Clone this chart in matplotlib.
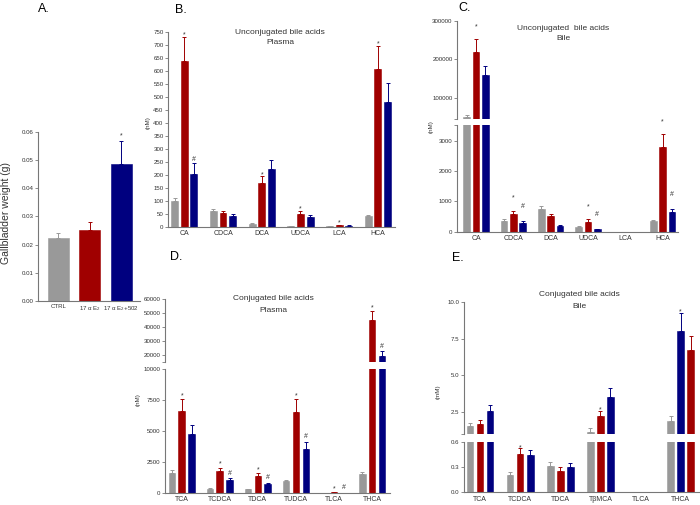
import numpy as np
import matplotlib
matplotlib.use("Agg")
import matplotlib.pyplot as plt

plt.rcParams['font.family'] = ['Liberation Sans', 'DejaVu Sans']
plt.rcParams['mathtext.fontset'] = 'custom'
plt.rcParams['mathtext.rm'] = 'Liberation Sans'
plt.rcParams['mathtext.it'] = 'Liberation Sans:italic'

GRAY = '#999999'
RED = '#a00000'
BLUE = '#00007f'
AXC = '#777777'
TXT = '#333333'
W, H = 700, 505

# A. gallbladder weight (g)
a_groups = ['CTRL', r'17 α E$_2$', r'17 α E$_2$+502']
a_mean = [0.0222, 0.0252, 0.0487]
a_err = [0.0018, 0.0027, 0.0081]
a_marks = ['', '', '*']

# B. unconjugated bile acids, plasma (nM)
b_acids = ['CA', 'CDCA', 'DCA', 'UDCA', 'LCA', 'HCA']
b_ctrl = [98, 59, 10, 1, 1, 40]
b_ctrl_err = [14, 9, 3, 0.5, 0.5, 6]
b_e2 = [640, 51, 170, 50, 6, 608]
b_e2_err = [93, 11, 24, 10, 2, 91]
b_e2502 = [202, 41, 224, 36, 4, 482]
b_e2502_err = [43, 8, 32, 9, 1, 71]
b_e2_marks = ['*', '', '*', '*', '*', '*']
b_e2502_marks = ['#', '', '', '', '', '']

# C. unconjugated bile acids, bile (nM)
c_acids = ['CA', 'CDCA', 'DCA', 'UDCA', 'LCA', 'HCA']
c_ctrl = [50000, 354, 740, 166, 0, 344]
c_ctrl_err = [5000, 66, 110, 24, 0, 56]
c_e2 = [220000, 600, 520, 331, 0, 2795]
c_e2_err = [32600, 90, 66, 79, 0, 430]
c_e2502 = [159500, 300, 200, 80, 0, 662]
c_e2502_err = [24100, 54, 22, 12, 0, 90]
c_e2_marks = ['*', '*', '', '*', '', '*']
c_e2502_marks = ['', '#', '', '#', '', '#']

# D. conjugated bile acids, plasma (nM)
d_acids = ['TCA', 'TCDCA', 'TDCA', 'TUDCA', 'TLCA', 'THCA']
d_ctrl = [1590, 320, 300, 970, 10, 1510]
d_ctrl_err = [260, 60, 50, 80, 5, 210]
d_e2 = [6610, 1770, 1370, 6560, 60, 45200]
d_e2_err = [940, 270, 220, 1000, 20, 6400]
d_e2502 = [4760, 1050, 700, 3550, 30, 19500]
d_e2502_err = [720, 130, 130, 560, 10, 3400]
d_e2_marks = ['*', '*', '*', '*', '*', '*']
d_e2502_marks = ['', '#', '#', '#', '#', '#']

# E. conjugated bile acids, bile (mM)
e_acids = ['TCA', 'TCDCA', 'TDCA', 'TβMCA', 'TLCA', 'THCA']
e_ctrl = [1.54, 0.205, 0.312, 1.19, 0.004, 1.93]
e_ctrl_err = [0.23, 0.032, 0.044, 0.21, 0.001, 0.34]
e_e2 = [1.70, 0.455, 0.253, 2.27, 0.005, 6.70]
e_e2_err = [0.27, 0.065, 0.044, 0.34, 0.001, 0.98]
e_e2502 = [2.56, 0.443, 0.304, 3.56, 0.004, 8.00]
e_e2502_err = [0.41, 0.057, 0.040, 0.55, 0.001, 1.21]
e_e2_marks = ['', '*', '', '*', '', '']
e_e2502_marks = ['', '', '', '', '', '*']
e_swap = [False, False, False, False, False, True]  # THCA: blue bar drawn in the middle

fig = plt.figure(figsize=(W / 100, H / 100), dpi=100)


def make_ax(l, t, r, b, bottom=True):
    ax = fig.add_axes([l / W, 1 - b / H, (r - l) / W, (b - t) / H])
    ax.patch.set_visible(False)
    for s in ['top', 'right']:
        ax.spines[s].set_visible(False)
    ax.spines['left'].set_color(AXC)
    ax.spines['left'].set_linewidth(0.8)
    if bottom:
        ax.spines['bottom'].set_color(AXC)
        ax.spines['bottom'].set_linewidth(0.8)
    else:
        ax.spines['bottom'].set_visible(False)
        ax.set_xticks([])
    ax.tick_params(axis='y', which='both', length=2, width=0.6, color=AXC,
                   labelsize=4.4, labelcolor=TXT, pad=1.2)
    ax.tick_params(axis='x', length=0, labelsize=5, labelcolor=TXT, pad=2.5)
    return ax


def ftext(x, y, s, **kw):
    fig.text(x / W, 1 - y / H, s, **kw)


def draw(axes, x, vals, errs, color, width, marks, mark_px):
    x = np.asarray(x, dtype=float)
    vals = np.asarray(vals, dtype=float)
    errs = np.asarray(errs, dtype=float)
    for ax in axes:
        ax.bar(x, vals, width, color=color, edgecolor=color, linewidth=0.4, zorder=2)
        ax.errorbar(x, vals, yerr=[np.zeros_like(errs), errs], fmt='none', ecolor=color,
                    elinewidth=0.7, capsize=1.6, capthick=0.7, zorder=1)
    low = axes[-1]
    for xi, top, m in zip(x, vals + errs, marks):
        if not m:
            continue
        ax = low
        if len(axes) == 2 and top > low.get_ylim()[1]:
            ax = axes[0]
        base = mark_px - (4.0 if m == '*' else 2.4)
        ax.annotate(m, (xi, top), xytext=(0, base * 0.72), textcoords='offset points',
                    ha='center', va='baseline', fontsize=5, color=TXT, annotation_clip=False)


def panel(axes, groups, series, width, mark_px, xlim):
    pos = np.arange(len(groups))
    for ax in axes:
        ax.set_xlim(*xlim)
    for vals, errs, color, marks, offs in series:
        draw(axes, pos + np.asarray(offs), vals, errs, color, width, marks, mark_px)
    axes[-1].set_xticks(pos)
    axes[-1].set_xticklabels(groups)


# ---------------- A
axA = make_ax(38, 131.7, 140, 301)
axA.set_ylim(0, 0.06)
axA.set_xlim(-0.65, 2.59)
a_ticks = np.arange(0, 0.061, 0.01)
axA.set_yticks(a_ticks)
axA.set_yticklabels(['%.2f' % v for v in a_ticks])
for i, (v, e, c, m) in enumerate(zip(a_mean, a_err, [GRAY, RED, BLUE], a_marks)):
    draw([axA], [i], [v], [e], c, 0.67, [m], 7)
axA.set_xticks(range(3))
axA.set_xticklabels(a_groups, fontsize=4.4)
ftext(6, 213, 'Gallbladder weight (g)', rotation=90, ha='center', va='center',
      fontsize=7.5, color=TXT)
ftext(44, 9, 'A.', ha='center', va='center', fontsize=9)

# ---------------- B
axB = make_ax(168, 32.3, 395, 226.7)
axB.set_ylim(0, 750)
axB.set_yticks(np.arange(0, 751, 50))
off = 0.25
panel([axB], b_acids,
      [(b_ctrl, b_ctrl_err, GRAY, [''] * 6, [-off] * 6),
       (b_e2, b_e2_err, RED, b_e2_marks, [0] * 6),
       (b_e2502, b_e2502_err, BLUE, b_e2502_marks, [off] * 6)],
      0.18, 4.4, (-0.42, 5.44))
ftext(280, 32, 'Unconjugated bile acids', ha='center', va='center', fontsize=6, color=TXT)
ftext(280, 42, 'Plasma', ha='center', va='center', fontsize=6, color=TXT)
ftext(148, 123, '(nM)', rotation=90, ha='center', va='center', fontsize=4.5, color=TXT)
ftext(181, 10, 'B.', ha='center', va='center', fontsize=9)

# ---------------- C
axC1 = make_ax(457, 20.7, 678.3, 119.3, bottom=False)
axC2 = make_ax(457, 125, 678.3, 231.7)
axC1.set_ylim(45000, 300000)
axC1.set_yticks([100000, 200000, 300000])
axC1.set_yticklabels(['100000', '200000', '300000'])
axC1.set_yticks([45000], minor=True)
axC2.set_ylim(0, 3530)
axC2.set_yticks([0, 1000, 2000, 3000])
axC2.set_yticks([3530], minor=True)
off = 0.25
panel([axC1, axC2], c_acids,
      [(c_ctrl, c_ctrl_err, GRAY, [''] * 6, [-off] * 6),
       (c_e2, c_e2_err, RED, c_e2_marks, [0] * 6),
       (c_e2502, c_e2502_err, BLUE, c_e2502_marks, [off] * 6)],
      0.18, 15, (-0.51, 5.42))
ftext(563, 29, 'Unconjugated  bile acids', ha='center', va='center', fontsize=6, color=TXT)
ftext(563, 39, 'Bile', ha='center', va='center', fontsize=6, color=TXT)
ftext(431, 127, '(nM)', rotation=90, ha='center', va='center', fontsize=4.5, color=TXT)
ftext(465, 8, 'C.', ha='center', va='center', fontsize=9)

# ---------------- D
axD1 = make_ax(165, 299.3, 390, 362.3, bottom=False)
axD2 = make_ax(165, 369, 390, 493)
axD1.set_ylim(15000, 60000)
axD1.set_yticks(np.arange(20000, 60001, 10000))
axD1.set_yticks([15000], minor=True)
axD2.set_ylim(0, 10000)
axD2.set_yticks(np.arange(0, 10001, 2500))
off = 0.26
panel([axD1, axD2], d_acids,
      [(d_ctrl, d_ctrl_err, GRAY, [''] * 6, [-off] * 6),
       (d_e2, d_e2_err, RED, d_e2_marks, [0] * 6),
       (d_e2502, d_e2502_err, BLUE, d_e2502_marks, [off] * 6)],
      0.176, 6, (-0.44, 5.47))
ftext(273, 299, 'Conjugated bile acids', ha='center', va='center', fontsize=6, color=TXT)
ftext(273, 310, 'Plasma', ha='center', va='center', fontsize=6, color=TXT)
ftext(138, 400, '(nM)', rotation=90, ha='center', va='center', fontsize=4.5, color=TXT)
ftext(176, 257, 'D.', ha='center', va='center', fontsize=9)

# ---------------- E
axE1 = make_ax(464, 301.7, 699, 434.3, bottom=False)
axE2 = make_ax(464, 441.7, 699, 492.3)
axE1.set_ylim(1.0, 10.0)
axE1.set_yticks([2.5, 5.0, 7.5, 10.0])
axE1.set_yticklabels(['2.5', '5.0', '7.5', '10.0'])
axE1.set_yticks([1.0], minor=True)
axE2.set_ylim(0, 0.6)
axE2.set_yticks([0, 0.3, 0.6])
axE2.set_yticklabels(['0.0', '0.3', '0.6'])
off = 0.25
e_red_off = [off if s else 0 for s in e_swap]
e_blue_off = [0 if s else off for s in e_swap]
panel([axE1, axE2], e_acids,
      [(e_ctrl, e_ctrl_err, GRAY, [''] * 6, [-off] * 6),
       (e_e2, e_e2_err, RED, e_e2_marks, e_red_off),
       (e_e2502, e_e2502_err, BLUE, e_e2502_marks, e_blue_off)],
      0.167, 3.5, (-0.40, 5.46))
ftext(579, 294, 'Conjugated bile acids', ha='center', va='center', fontsize=6, color=TXT)
ftext(579, 306, 'Bile', ha='center', va='center', fontsize=6, color=TXT)
ftext(438, 392, '(mM)', rotation=90, ha='center', va='center', fontsize=4.5, color=TXT)
ftext(458, 258, 'E.', ha='center', va='center', fontsize=9)

fig.savefig('out.png', dpi=100)
